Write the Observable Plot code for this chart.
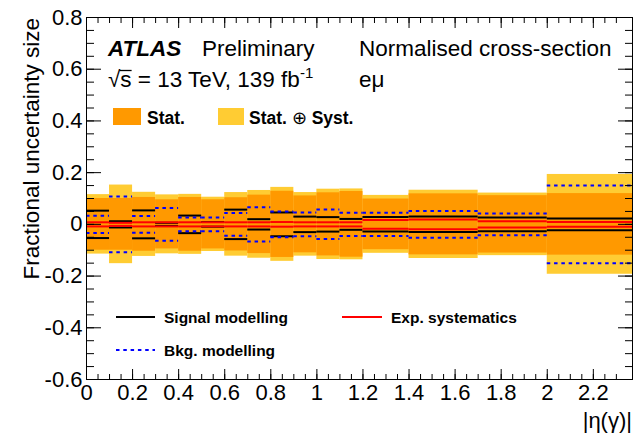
<!DOCTYPE html>
<html>
<head>
<meta charset="utf-8">
<script src="https://cdn.jsdelivr.net/npm/d3@7"></script>
<script src="https://cdn.jsdelivr.net/npm/@observablehq/plot@0.6"></script>
<style>
  html, body { margin: 0; padding: 0; background: #fff; }
  #chart { width: 633px; height: 434px; }
</style>
</head>
<body>
<div id="chart"></div>
<script>
// |eta(gamma)| bin edges
const binEdges = [0, 0.1, 0.2, 0.3, 0.4, 0.5, 0.6, 0.7, 0.8, 0.9, 1.0, 1.1, 1.2, 1.4, 1.7, 2.0, 2.37];

// Fractional uncertainties per bin (symmetric, drawn as +/-)
const totalUnc  = [0.115, 0.152, 0.124, 0.114, 0.116, 0.105, 0.123, 0.131, 0.143, 0.123, 0.136, 0.137, 0.112, 0.132, 0.121, 0.193];
const statUnc   = [0.100, 0.100, 0.104, 0.095, 0.104, 0.095, 0.103, 0.113, 0.128, 0.110, 0.122, 0.127, 0.098, 0.118, 0.111, 0.119];
const signalMod = [0.053, 0.012, 0.054, 0.006, 0.034, 0.009, 0.057, 0.020, 0.046, 0.030, 0.028, 0.021, 0.028, 0.030, 0.027, 0.023];
const bkgMod    = [0.033, 0.108, 0.032, 0.063, 0.027, 0.027, 0.044, 0.066, 0.050, 0.046, 0.057, 0.045, 0.045, 0.052, 0.042, 0.150];
const expSyst   = [0.008, 0.006, 0.008, 0.008, 0.008, 0.008, 0.008, 0.008, 0.009, 0.008, 0.008, 0.008, 0.017, 0.019, 0.012, 0.009];

// Axis ticks and labels
const xTicks = [0, 0.2, 0.4, 0.6, 0.8, 1, 1.2, 1.4, 1.6, 1.8, 2, 2.2];
const yTicks = [-0.6, -0.4, -0.2, 0, 0.2, 0.4, 0.6, 0.8];
const xMinor = d3.range(0, 47).map(i => +(i * 0.05).toFixed(2));
const yMinor = d3.range(0, 29).map(i => +(-0.6 + i * 0.05).toFixed(2));
const fmt = d => String(d);

const bins = binEdges.slice(0, -1).map((lo, i) => ({
  lo, hi: binEdges[i + 1],
  total: totalUnc[i], stat: statUnc[i],
  signal: signalMod[i], bkg: bkgMod[i], exp: expSyst[i]
}));
const pm = key => bins.flatMap(b => [1, -1].map(s => ({lo: b.lo, hi: b.hi, v: s * b[key]})));

const FONT = "'Liberation Sans', Arial, Helvetica, sans-serif";

const plot = Plot.plot({
  width: 633,
  height: 434,
  marginLeft: 86,
  marginRight: 1,
  marginTop: 17,
  marginBottom: 55,
  style: {fontFamily: FONT, fontSize: "22px", color: "black", background: "white", overflow: "visible"},
  x: {domain: [0, 2.37]},
  y: {domain: [-0.6, 0.8]},
  marks: [
    // Stat. (+) Syst. band and Stat. band
    Plot.rect(bins, {x1: "lo", x2: "hi", y1: d => -d.total, y2: d => d.total, fill: "#ffcc33"}),
    Plot.rect(bins, {x1: "lo", x2: "hi", y1: d => -d.stat, y2: d => d.stat, fill: "#ff9900"}),
    // individual sources
    Plot.ruleY(pm("signal"), {y: "v", x1: "lo", x2: "hi", stroke: "black", strokeWidth: 2}),
    Plot.ruleY(pm("exp"), {y: "v", x1: "lo", x2: "hi", stroke: "#ff0000", strokeWidth: 2}),
    Plot.ruleY(pm("bkg"), {y: "v", x1: "lo", x2: "hi", stroke: "#0000ff", strokeWidth: 2, strokeDasharray: "3.5,3.8"}),
    // inward ticks on all four sides
    Plot.axisY({anchor: "left", ticks: yTicks, tickSize: -15, fill: "none", label: null}),
    Plot.axisY({anchor: "left", ticks: yMinor, tickSize: -8, fill: "none", label: null}),
    Plot.axisY({anchor: "right", ticks: yTicks, tickSize: -15, fill: "none", label: null}),
    Plot.axisY({anchor: "right", ticks: yMinor, tickSize: -8, fill: "none", label: null}),
    Plot.axisX({anchor: "bottom", ticks: xTicks, tickSize: -10, fill: "none", label: null}),
    Plot.axisX({anchor: "bottom", ticks: xMinor, tickSize: -5, fill: "none", label: null}),
    Plot.axisX({anchor: "top", ticks: xTicks, tickSize: -10, fill: "none", label: null}),
    Plot.axisX({anchor: "top", ticks: xMinor, tickSize: -5, fill: "none", label: null}),
    // tick labels
    Plot.axisY({anchor: "left", ticks: yTicks, tickSize: 0, tickPadding: 4, tickFormat: fmt, label: null}),
    Plot.axisX({anchor: "bottom", ticks: xTicks, tickSize: 0, tickPadding: 5, tickFormat: fmt, label: null}),
    Plot.frame({stroke: "black", strokeWidth: 1})
  ]
});

document.getElementById("chart").appendChild(plot);

// Titles, labels and legend
const svg = d3.select(plot);
const txt = (x, y, s, opts = {}) => {
  const t = svg.append("text")
    .attr("x", x).attr("y", y)
    .attr("font-family", FONT)
    .attr("font-size", opts.size || 22)
    .attr("font-weight", opts.weight || "normal")
    .attr("font-style", opts.style || "normal")
    .attr("text-anchor", opts.anchor || "start")
    .attr("fill", "black");
  if (opts.transform) t.attr("transform", opts.transform).attr("x", 0).attr("y", 0);
  t.text(s);
  return t;
};

// axis titles
txt(0, 0, "Fractional uncertainty size", {size: 22.5, anchor: "end", transform: "translate(38.5,18) rotate(-90)"});
txt(632, 428, "|η(γ)|", {size: 22, anchor: "end"});

// header
txt(108, 56, "ATLAS", {weight: "bold", style: "italic", size: 22.5});
txt(202, 56, "Preliminary", {size: 22.5});
txt(359, 56, "Normalised cross-section", {size: 22.5});
const lumi = txt(108, 87, "√s = 13 TeV, 139 fb", {size: 22.5});
lumi.append("tspan").attr("dy", -9).attr("font-size", 15).text("-1");
// bar over the "s" under the root sign
{
  const node = lumi.node();
  const wRoot = node.getSubStringLength(0, 1);
  const wS = node.getSubStringLength(1, 1);
  svg.append("line")
    .attr("x1", 108 + wRoot - 1).attr("x2", 108 + wRoot + wS)
    .attr("y1", 70.5).attr("y2", 70.5)
    .attr("stroke", "black").attr("stroke-width", 1.3);
}
txt(359, 87, "eμ", {size: 22.5});

// band legend
svg.append("rect").attr("x", 113).attr("y", 108).attr("width", 28).attr("height", 17).attr("fill", "#ff9900");
txt(147, 123.5, "Stat.", {weight: "bold", size: 17.5});
svg.append("rect").attr("x", 218).attr("y", 108).attr("width", 26).attr("height", 17).attr("fill", "#ffcc33");
const ss = txt(249, 123.5, "Stat. ", {weight: "bold", size: 17.5});
ss.append("tspan").attr("font-weight", "normal").text("⊕");
ss.append("tspan").text(" Syst.");

// line legend
svg.append("line").attr("x1", 116).attr("x2", 155).attr("y1", 317).attr("y2", 317).attr("stroke", "black").attr("stroke-width", 2);
txt(164, 323, "Signal modelling", {weight: "bold", size: 15.5});
svg.append("line").attr("x1", 342).attr("x2", 382).attr("y1", 317).attr("y2", 317).attr("stroke", "#ff0000").attr("stroke-width", 2);
txt(391, 323, "Exp. systematics", {weight: "bold", size: 15.5});
svg.append("line").attr("x1", 116).attr("x2", 155).attr("y1", 350).attr("y2", 350).attr("stroke", "#0000ff").attr("stroke-width", 2).attr("stroke-dasharray", "3.5,3.8");
txt(164, 355.5, "Bkg. modelling", {weight: "bold", size: 15.5});
</script>
</body>
</html>
